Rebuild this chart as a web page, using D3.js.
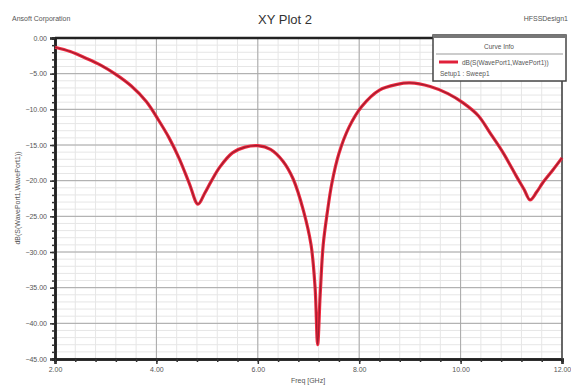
<!DOCTYPE html>
<html><head><meta charset="utf-8">
<script src="https://cdn.jsdelivr.net/npm/d3@7"></script>
<style>body{margin:0;background:#fff}svg{display:block}text{font-family:"Liberation Sans",Arial,sans-serif}</style>
</head><body>
<svg id="c" width="571" height="389"></svg>
<script>
const freq = [2.0, 2.3, 2.6, 2.9, 3.2, 3.5, 3.8, 4.05, 4.25, 4.45, 4.65, 4.82, 4.95, 5.08, 5.25, 5.5, 5.75, 6.0, 6.25, 6.5, 6.7, 6.9, 7.05, 7.13, 7.18, 7.23, 7.29, 7.37, 7.46, 7.6, 7.8, 8.05, 8.4, 8.75, 9.0, 9.4, 9.75, 10.05, 10.35, 10.58, 10.84, 11.11, 11.25, 11.37, 11.5, 11.62, 11.82, 12.0];
const s11 = [-1.3, -1.9, -2.8, -3.8, -5.1, -6.7, -8.9, -11.6, -14.0, -16.9, -20.4, -23.3, -21.8, -20.1, -18.1, -16.1, -15.3, -15.1, -15.6, -17.3, -19.8, -24.2, -29.0, -35.0, -43.0, -36.0, -29.0, -24.5, -20.4, -16.2, -12.5, -9.6, -7.3, -6.5, -6.3, -6.8, -7.8, -9.1, -10.9, -13.3, -16.1, -19.5, -21.2, -22.7, -21.6, -20.3, -18.5, -16.8];
const xTicks = [2, 4, 6, 8, 10, 12];
const yTicks = [0, -5, -10, -15, -20, -25, -30, -35, -40, -45];
const seriesName = "dB(S(WavePort1,WavePort1))";
const setupName = "Setup1 : Sweep1";

const svg = d3.select("#c");
const L = 55, R = 562, T = 38, B = 359;
const x = d3.scaleLinear().domain([2, 12]).range([L, R]);
const y = d3.scaleLinear().domain([-45, 0]).range([B, T]);

// minor grid
const g = svg.append("g");
g.selectAll(".vmin").data(d3.range(2, 12.0001, 0.4)).join("line")
  .attr("x1", d => x(d)).attr("x2", d => x(d)).attr("y1", T).attr("y2", B)
  .attr("stroke", "#e6e6e6").attr("stroke-width", 1);
g.selectAll(".hmin").data(d3.range(-45, 0.0001, 1)).join("line")
  .attr("y1", d => y(d)).attr("y2", d => y(d)).attr("x1", L).attr("x2", R)
  .attr("stroke", "#e6e6e6").attr("stroke-width", 1);
// major grid
g.selectAll(".vmaj").data(xTicks).join("line")
  .attr("x1", d => x(d)).attr("x2", d => x(d)).attr("y1", T).attr("y2", B)
  .attr("stroke", "#a8a8a8").attr("stroke-width", 1);
g.selectAll(".hmaj").data(yTicks).join("line")
  .attr("y1", d => y(d)).attr("y2", d => y(d)).attr("x1", L).attr("x2", R)
  .attr("stroke", "#a8a8a8").attr("stroke-width", 1);

// axes
const fmt = d3.format(".2f");
const yAxis = d3.axisLeft(y).tickValues(yTicks).tickFormat(fmt).tickSize(5).tickPadding(3);
svg.append("g").attr("transform", `translate(${L},0)`).call(yAxis);
const yMinor = d3.axisLeft(y).tickValues(d3.range(-45, 0.0001, 1)).tickFormat("").tickSize(3);
svg.append("g").attr("transform", `translate(${L},0)`).call(yMinor);
const xAxis = d3.axisBottom(x).tickValues(xTicks).tickFormat(fmt).tickSize(5).tickPadding(3);
svg.append("g").attr("transform", `translate(0,${B})`).call(xAxis);
const xMinor = d3.axisBottom(x).tickValues(d3.range(2, 12.0001, 0.4)).tickFormat("").tickSize(3);
svg.append("g").attr("transform", `translate(0,${B})`).call(xMinor);
svg.selectAll(".domain").attr("stroke", "#222").attr("stroke-width", 2.5);
svg.selectAll(".tick line").attr("stroke", "#333").attr("stroke-width", 1.5);
svg.selectAll(".tick text").attr("font-size", 7).attr("fill", "#555");
// frame
svg.append("line").attr("x1", L).attr("x2", R).attr("y1", T).attr("y2", T).attr("stroke", "#222").attr("stroke-width", 2.5);
svg.append("line").attr("x1", R).attr("x2", R).attr("y1", T).attr("y2", B).attr("stroke", "#444").attr("stroke-width", 1.5);

// curve
const line = d3.line().x((d, i) => x(freq[i])).y(d => y(d)).curve(d3.curveCatmullRom.alpha(0.5));
svg.append("path").attr("d", line(s11)).attr("fill", "none")
  .attr("stroke", "#f02a40").attr("stroke-width", 3.2);
svg.append("path").attr("d", line(s11)).attr("fill", "none")
  .attr("stroke", "#8a1a2a").attr("stroke-width", 1.2).attr("opacity", 0.8);

// texts
svg.append("text").attr("x", 12).attr("y", 21).attr("font-size", 7).attr("fill", "#555").text("Ansoft Corporation");
svg.append("text").attr("x", 285).attr("y", 24).attr("text-anchor", "middle").attr("font-size", 13).attr("fill", "#333").text("XY Plot 2");
svg.append("text").attr("x", 568).attr("y", 21).attr("text-anchor", "end").attr("font-size", 7).attr("fill", "#555").text("HFSSDesign1");
svg.append("text").attr("x", 308).attr("y", 383).attr("text-anchor", "middle").attr("font-size", 7).attr("fill", "#555").text("Freq [GHz]");
svg.append("text").attr("transform", "translate(20,198) rotate(-90)").attr("text-anchor", "middle").attr("font-size", 7).attr("fill", "#555").text(seriesName);

// legend
const lg = svg.append("g");
lg.append("rect").attr("x", 433).attr("y", 35).attr("width", 133).attr("height", 46).attr("fill", "#fff").attr("stroke", "#444").attr("stroke-width", 1.5);
lg.append("rect").attr("x", 433).attr("y", 35).attr("width", 133).attr("height", 3).attr("fill", "#777");
lg.append("text").attr("x", 499).attr("y", 49).attr("text-anchor", "middle").attr("font-size", 6.5).attr("fill", "#555").text("Curve Info");
lg.append("line").attr("x1", 436).attr("x2", 563).attr("y1", 54).attr("y2", 54).attr("stroke", "#999");
lg.append("line").attr("x1", 439).attr("x2", 458).attr("y1", 62).attr("y2", 62).attr("stroke", "#e0203a").attr("stroke-width", 3);
lg.append("text").attr("x", 462).attr("y", 64.5).attr("font-size", 6.5).attr("fill", "#555").text(seriesName);
lg.append("text").attr("x", 440).attr("y", 76).attr("font-size", 6.5).attr("fill", "#555").text(setupName);
</script>
</body></html>
